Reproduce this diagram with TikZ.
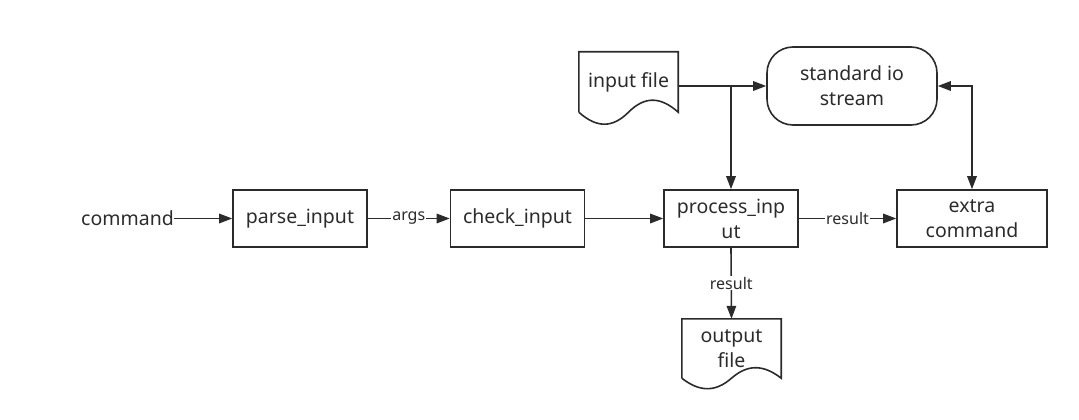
\documentclass[tikz,border=0pt]{standalone}
\usepackage{fontspec}
\setmainfont{Noto Sans}
\usetikzlibrary{arrows.meta}

\definecolor{ink}{HTML}{2B2B2B}

\tikzset{
  box/.style={draw=ink, line width=1.6pt, minimum width=134pt, minimum height=57pt,
    inner sep=2pt, align=center, font=\fontsize{19.5}{25}\selectfont, text=ink},
  docnode/.style={minimum width=99pt, inner sep=2pt, align=center,
    font=\fontsize{19.5}{25}\selectfont, text=ink},
  lbl/.style={fill=white, inner sep=1pt, font=\fontsize{16}{18}\selectfont, text=ink},
  conn/.style={draw=ink, line width=1.6pt, -{Triangle[length=13pt,width=9.5pt]}},
}

\begin{document}
\begin{tikzpicture}[x=1pt, y=-1pt]
  \useasboundingbox (0,0) rectangle (1079,420);

  % main row
  \node[inner sep=0pt, font=\fontsize{19.5}{25}\selectfont, text=ink] (cmd) at (127.5,218.5) {command};
  \node[box] (parse) at (300,218.5) {parse\_input};
  \node[box] (check) at (517.5,218.5) {check\_input};
  \node[box] (proc) at (731,218.5) {process\_inp\\ut};
  \node[box, minimum width=150pt] (extra) at (972,218.5) {extra\\command};

  % files and stream
  \node[docnode, minimum height=60pt] (inf) at (628.5,82) {input file};
  \draw[ink, line width=1.6pt] (inf.south west) -- (inf.north west) -- (inf.north east) -- (inf.south east)
    .. controls +(-18,-16) and +(16,-16) .. (inf.south)
    .. controls +(-16,16) and +(18,16) .. (inf.south west);
  \node[docnode, minimum height=59pt] (out) at (731.5,348.5) {output\\file};
  \draw[ink, line width=1.6pt] (out.south west) -- (out.north west) -- (out.north east) -- (out.south east)
    .. controls +(-18,-14) and +(16,-14) .. (out.south)
    .. controls +(-16,14) and +(18,14) .. (out.south west);
  \node[box, rounded corners=26pt, minimum width=170pt, minimum height=78pt] (sio) at (852,86) {standard io\\stream};

  % connectors
  \draw[conn] (cmd.east) -- (parse);
  \draw[conn] (parse) -- node[lbl] {args} (check);
  \draw[conn] (check) -- (proc);
  \draw[conn] (proc) -- node[lbl] {result} (extra);
  \draw[conn] (inf.east |- sio.west) -- (sio.west);
  \coordinate (jn) at (proc.north |- sio.west);
  \draw[conn] (jn) -- (proc.north);
  \draw[conn, {Triangle[length=13pt,width=9.5pt]}-{Triangle[length=13pt,width=9.5pt]}] (sio.east) -| (extra.north);
  \draw[conn] (proc.south) -- node[lbl] {result} (out.north);
\end{tikzpicture}
\end{document}
